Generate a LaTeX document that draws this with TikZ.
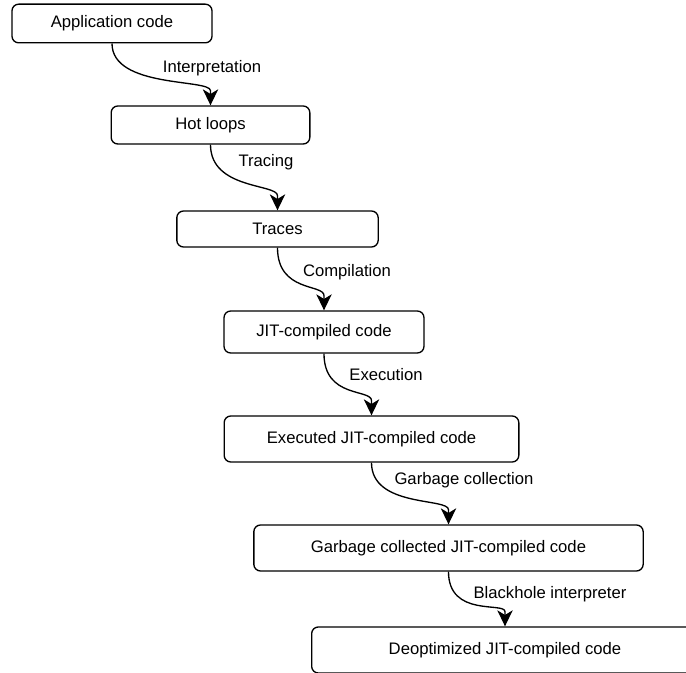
\documentclass[tikz,border=0pt]{standalone}
\usepackage{fontspec}
\setmainfont{Liberation Sans}
\usetikzlibrary{arrows.meta}

\begin{document}
\begin{tikzpicture}[x=0.75pt, y=-0.75pt,
		stage/.style={draw, line width=1pt, rounded corners=5pt, inner sep=0pt,
			font=\fontsize{12.5}{15}\selectfont},
		flow/.style={line width=1pt, -{Stealth[length=12pt, width=11.5pt, inset=3.5pt]}},
		lbl/.style={font=\fontsize{12.5}{15}\selectfont}]
			\useasboundingbox (0,0) rectangle (686,673);
			\clip (0,0) rectangle (686,673);
			% stages
			\node[stage, minimum width=150pt, minimum height=29pt] (app) at (112,23.5) {Application code};
			\node[stage, minimum width=149pt, minimum height=28.5pt] (hot) at (210.5,125) {Hot loops};
			\node[stage, minimum width=151pt, minimum height=27pt] (traces) at (277.5,229) {Traces};
			\node[stage, minimum width=150pt, minimum height=31.5pt] (jit) at (324,332) {JIT-compiled code};
			\node[stage, minimum width=221pt, minimum height=34.5pt] (exec) at (371.5,439) {Executed JIT-compiled code};
			\node[stage, minimum width=292pt, minimum height=34.5pt] (gc) at (448.5,548) {Garbage collected JIT-compiled code};
			\node[stage, minimum width=290pt, minimum height=34.5pt] (deopt) at (505,650) {Deoptimized JIT-compiled code};
			% transitions
			\draw[flow] (app.south) .. controls +(0,45) and +(0,-12) .. ([yshift=11pt]hot.north) -- (hot.north);
			\draw[flow] (hot.south) .. controls +(0,45) and +(0,-12) .. ([yshift=11pt]traces.north) -- (traces.north);
			\draw[flow] (traces.south) .. controls +(0,45) and +(0,-12) .. ([yshift=11pt]jit.north) -- (jit.north);
			\draw[flow] (jit.south) .. controls +(0,45) and +(0,-12) .. ([yshift=11pt]exec.north) -- (exec.north);
			\draw[flow] (exec.south) .. controls +(0,45) and +(0,-12) .. ([yshift=11pt]gc.north) -- (gc.north);
			\draw[flow] (gc.south) .. controls +(0,46) and +(0,-10) .. ([yshift=11pt]deopt.north) -- (deopt.north);
			% labels
			\node[lbl] (interp) at (212,68) {Interpretation};
			\node[lbl] (tracing) at (266,162) {Tracing};
			\node[lbl] (compil) at (347,272) {Compilation};
			\node[lbl] (execu) at (386,375) {Execution};
			\node[lbl] (garb) at (464,480) {Garbage collection};
			\node[lbl] (black) at (550,594) {Blackhole interpreter};
		\end{tikzpicture}
\end{document}
